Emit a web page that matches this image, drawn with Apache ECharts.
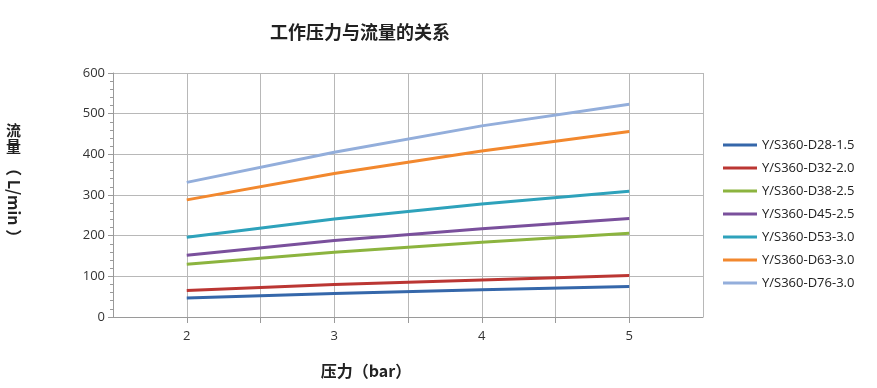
<!DOCTYPE html>
<html><head><meta charset="utf-8">
<script src="https://cdn.jsdelivr.net/npm/echarts@6/dist/echarts.min.js"></script>
<style>html,body{margin:0;padding:0;background:#fff}#c{width:877px;height:388px}</style>
</head><body><div id="c"></div>
<script>
const pressures = [2, 3, 4, 5];
const seriesNames = ['Y/S360-D28-1.5','Y/S360-D32-2.0','Y/S360-D38-2.5','Y/S360-D45-2.5','Y/S360-D53-3.0','Y/S360-D63-3.0','Y/S360-D76-3.0'];
const d28 = [47, 58, 67, 75];
const d32 = [65, 80, 91, 102];
const d38 = [130, 159, 184, 206];
const d45 = [152, 188, 217, 242];
const d53 = [196, 241, 278, 309];
const d63 = [288, 353, 408, 456];
const d76 = [331, 405, 470, 523];
const allValues = [d28, d32, d38, d45, d53, d63, d76];
const colors = ['#3567aa','#bb3633','#8cb43f','#7a509c','#2ea2bb','#f2882e','#93aedb'];
const font = "'Open Sans','Noto Sans',sans-serif";
const cjk = "'Noto Sans CJK SC',sans-serif";

const chart = echarts.init(document.getElementById('c'));
chart.setOption({
  animation: false,
  color: colors,
  title: {
    text: '工作压力与流量的关系', left: 355, top: 18, textAlign: 'center',
    textStyle: {fontFamily: cjk, fontSize: 18, fontWeight: 'bold', color: '#222'}
  },
  grid: {left: 113, right: 174, top: 73, bottom: 71},
  legend: {
    orient: 'vertical', left: 718, top: 131, itemGap: 5,
    icon: 'rect', itemWidth: 34, itemHeight: 3,
    textStyle: {fontFamily: font, fontSize: 13, color: '#222', lineHeight: 18, height: 18},
    data: seriesNames
  },
  xAxis: {
    type: 'value', min: 1.5, max: 5.5, interval: 0.5,
    name: '压力（bar）', nameLocation: 'middle', nameGap: 46,
    nameTextStyle: {fontFamily: cjk, fontSize: 16, fontWeight: 'bold', color: '#222', padding: [0, 84, 0, 0]},
    axisLine: {lineStyle: {color: '#9a9a9a'}},
    axisTick: {show: true, length: 6, lineStyle: {color: '#9a9a9a'}},
    axisLabel: {fontFamily: font, fontSize: 13, color: '#333', margin: 13,
      formatter: v => Number.isInteger(v) ? String(v) : '', showMinLabel: false, showMaxLabel: false},
    splitLine: {show: true, lineStyle: {color: '#b8b8b8'}}
  },
  yAxis: {
    type: 'value', min: 0, max: 600, interval: 100,
    axisLine: {show: true, lineStyle: {color: '#9a9a9a'}},
    axisTick: {show: true, length: 5, lineStyle: {color: '#9a9a9a'}},
    minorTick: {show: true, splitNumber: 5, length: 3, lineStyle: {color: '#9a9a9a'}},
    axisLabel: {fontFamily: font, fontSize: 13, color: '#333', margin: 8},
    splitLine: {show: true, lineStyle: {color: '#b8b8b8'}}
  },
  graphic: [
    {type: 'text', left: 6, top: 122, style: {text: '流\n量', font: "bold 15px 'Noto Sans CJK SC'", fill: '#222', lineHeight: 16}},
    {type: 'text', x: 22, y: 160, rotation: -Math.PI / 2,
      style: {text: '（ L/min ）', font: "bold 16px 'Noto Sans CJK SC'", fill: '#222'}}
  ],
  series: allValues.map((vals, i) => ({
    name: seriesNames[i], type: 'line', symbol: 'none',
    lineStyle: {width: 3, color: colors[i]},
    data: pressures.map((p, j) => [p, vals[j]])
  }))
});
</script></body></html>
